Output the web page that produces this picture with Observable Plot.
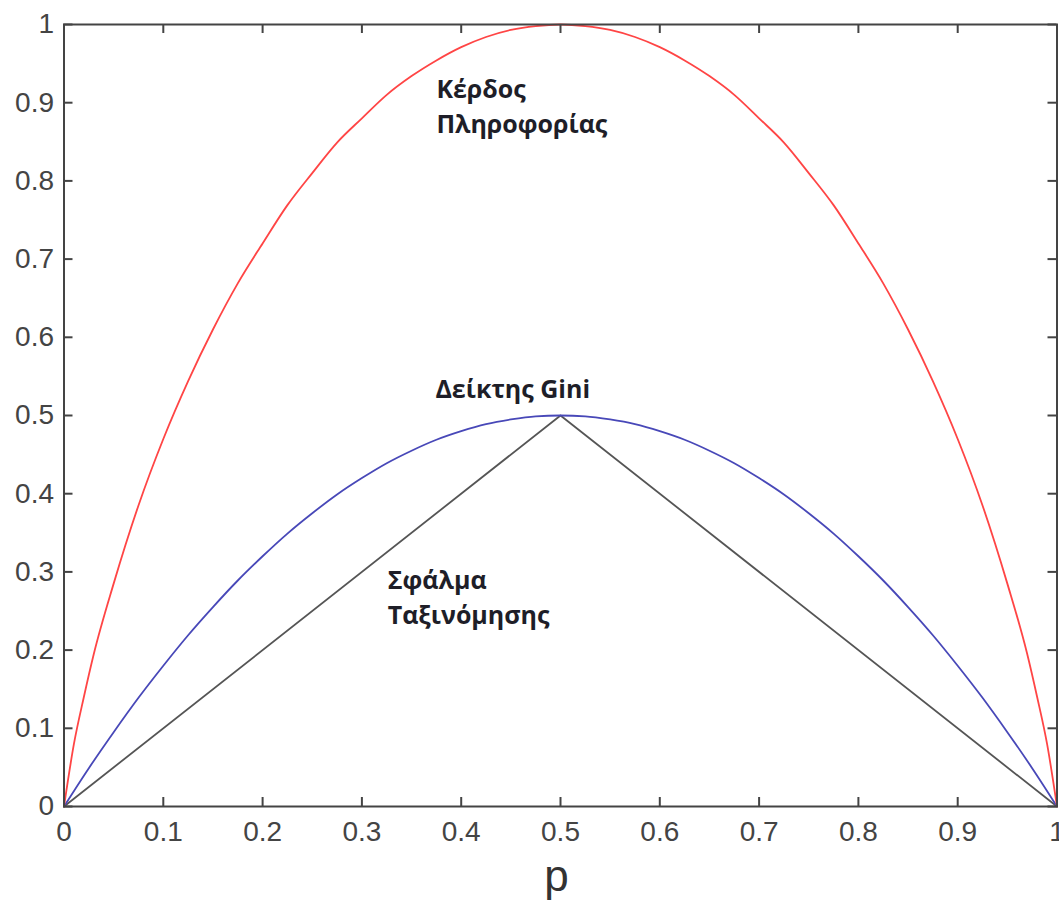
<!DOCTYPE html>
<html><head><meta charset="utf-8">
<script src="https://cdn.jsdelivr.net/npm/d3@7"></script>
<script src="https://cdn.jsdelivr.net/npm/@observablehq/plot@0.6"></script>
<style>body{margin:0;background:#fff}#chart svg{display:block}</style>
</head><body><div id="chart"></div>
<script>
// Red curve: "Κέρδος Πληροφορίας"
const entropyP = [0, 0.01, 0.02, 0.03, 0.05, 0.075, 0.1, 0.125, 0.15, 0.175, 0.2, 0.225, 0.25, 0.275, 0.3, 0.325, 0.35, 0.375, 0.4, 0.425, 0.45, 0.475, 0.5,
  0.525, 0.55, 0.575, 0.6, 0.625, 0.65, 0.675, 0.7, 0.725, 0.75, 0.775, 0.8, 0.825, 0.85, 0.875, 0.9, 0.925, 0.95, 0.97, 0.98, 0.99, 1];
const entropyV = [0, 0.08, 0.14, 0.195, 0.285, 0.385, 0.47, 0.544, 0.61, 0.669, 0.72, 0.769, 0.81, 0.849, 0.88, 0.91, 0.934, 0.954, 0.971, 0.984, 0.993, 0.998, 1,
  0.998, 0.993, 0.984, 0.971, 0.954, 0.934, 0.91, 0.88, 0.849, 0.81, 0.769, 0.72, 0.669, 0.61, 0.544, 0.47, 0.385, 0.285, 0.195, 0.14, 0.08, 0];
// Blue curve: "Δείκτης Gini"
const giniP = [0, 0.025, 0.05, 0.075, 0.1, 0.125, 0.15, 0.175, 0.2, 0.225, 0.25, 0.275, 0.3, 0.325, 0.35, 0.375, 0.4, 0.425, 0.45, 0.475, 0.5,
  0.525, 0.55, 0.575, 0.6, 0.625, 0.65, 0.675, 0.7, 0.725, 0.75, 0.775, 0.8, 0.825, 0.85, 0.875, 0.9, 0.925, 0.95, 0.975, 1];
const giniV = [0, 0.049, 0.095, 0.139, 0.18, 0.219, 0.255, 0.289, 0.32, 0.349, 0.375, 0.399, 0.42, 0.439, 0.455, 0.469, 0.48, 0.489, 0.495, 0.499, 0.5,
  0.499, 0.495, 0.489, 0.48, 0.469, 0.455, 0.439, 0.42, 0.399, 0.375, 0.349, 0.32, 0.289, 0.255, 0.219, 0.18, 0.139, 0.095, 0.049, 0];
// Grey curve: "Σφάλμα Ταξινόμησης"
const errorP = [0, 0.5, 1];
const errorV = [0, 0.5, 0];

const xTicks = [0, 0.1, 0.2, 0.3, 0.4, 0.5, 0.6, 0.7, 0.8, 0.9, 1];
const yTicks = [0, 0.1, 0.2, 0.3, 0.4, 0.5, 0.6, 0.7, 0.8, 0.9, 1];
const xTickLabels = ["0", "0.1", "0.2", "0.3", "0.4", "0.5", "0.6", "0.7", "0.8", "0.9", "1"];
const yTickLabels = ["0", "0.1", "0.2", "0.3", "0.4", "0.5", "0.6", "0.7", "0.8", "0.9", "1"];
const xAxisLabel = "p";

const annoText = ["Κέρδος\nΠληροφορίας", "Δείκτης Gini", "Σφάλμα\nΤαξινόμησης"];
const annoX = [0.375, 0.374, 0.326];
const annoY = [0.861, 0.522, 0.234];

const entropy = entropyP.map((p, i) => ({p, v: entropyV[i]}));
const gini = giniP.map((p, i) => ({p, v: giniV[i]}));
const error = errorP.map((p, i) => ({p, v: errorV[i]}));
const annos = annoText.map((t, i) => ({t, x: annoX[i], y: annoY[i]}));

const W = 1059, H = 901, mL = 63.5, mR = 2.5, mT = 24, mB = 95;
const innerW = W - mL - mR, innerH = H - mT - mB;
const tickLen = 9, axisColor = "#444";
const fmtX = d => xTickLabels[xTicks.indexOf(d)];
const fmtY = d => yTickLabels[yTicks.indexOf(d)];

const chart = Plot.plot({
  width: W, height: H,
  marginLeft: mL, marginRight: mR, marginTop: mT, marginBottom: mB,
  style: {fontFamily: "'Liberation Sans', Arial, sans-serif", background: "white", overflow: "visible"},
  x: {domain: [0, 1]},
  y: {domain: [0, 1]},
  marks: [
    Plot.line(error, {x: "p", y: "v", stroke: "#555555", strokeWidth: 1.8}),
    Plot.line(gini, {x: "p", y: "v", stroke: "#4848b8", strokeWidth: 1.8, curve: "monotone-x"}),
    Plot.line(entropy, {x: "p", y: "v", stroke: "#ff4545", strokeWidth: 1.8, curve: "monotone-x"}),
    Plot.frame({stroke: axisColor, strokeWidth: 2}),
    Plot.tickX(xTicks, {x: d => d, insetTop: innerH - tickLen, stroke: axisColor, strokeWidth: 2}),
    Plot.tickX(xTicks, {x: d => d, insetBottom: innerH - tickLen, stroke: axisColor, strokeWidth: 2}),
    Plot.tickY(yTicks, {y: d => d, insetRight: innerW - tickLen, stroke: axisColor, strokeWidth: 2}),
    Plot.tickY(yTicks, {y: d => d, insetLeft: innerW - tickLen, stroke: axisColor, strokeWidth: 2}),
    Plot.axisX({ticks: xTicks, tickFormat: fmtX, tickSize: 0, tickPadding: 15, fontSize: 28, fill: "#444", label: null}),
    Plot.axisY({ticks: yTicks, tickFormat: fmtY, tickSize: 0, tickPadding: 10, fontSize: 28, fill: "#444", label: null}),
    Plot.text([xAxisLabel], {text: d => d, frameAnchor: "bottom", lineAnchor: "bottom", dy: 84, dx: -4, fontSize: 44, fill: "#333"}),
    Plot.text(annos, {x: "x", y: "y", text: "t", textAnchor: "start", lineAnchor: "bottom", lineHeight: 1.4,
      fontSize: 25, fontWeight: "bold", fill: "#1e1e28", fontFamily: "'Open Sans', 'Noto Sans', sans-serif"})
  ]
});
document.getElementById("chart").append(chart);
</script>
</body></html>
